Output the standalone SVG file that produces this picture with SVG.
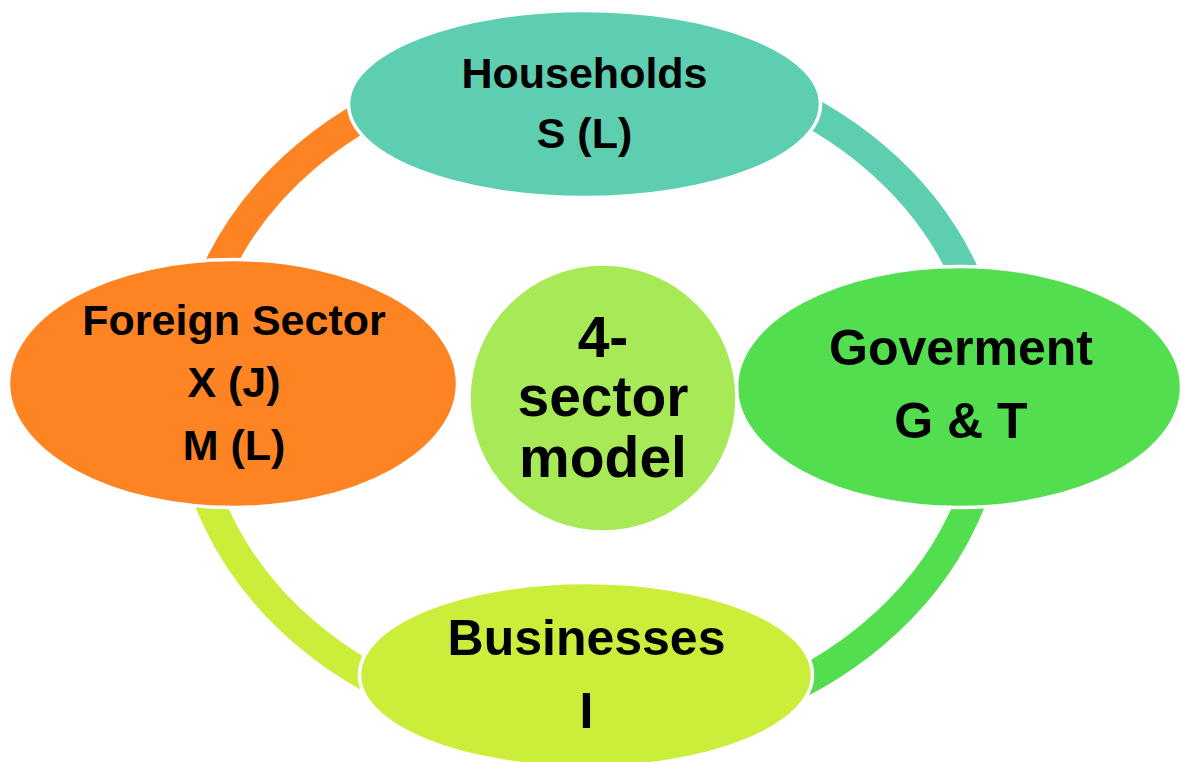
<svg xmlns="http://www.w3.org/2000/svg" width="1181" height="762" viewBox="0 0 1181 762">
<style>
.arc{fill:none;stroke-width:30;stroke-linecap:butt}
.node{stroke:#ffffff;stroke-width:3.5}
.t{font-family:"Liberation Sans",Arial,Helvetica,sans-serif;font-weight:bold;fill:#000000;text-anchor:middle}
</style>
<rect x="0" y="0" width="1181" height="762" fill="#ffffff"/>
<g id="connectors">
<path class="arc" stroke="#FE8423" d="M 189 395 A 401 338 0 0 1 590 57"/>
<path class="arc" stroke="#5ECEB0" d="M 590 57 A 401 338 0 0 1 991 395"/>
<path class="arc" stroke="#52DE4F" d="M 991 395 A 401 338 0 0 1 590 733"/>
<path class="arc" stroke="#CBEE3A" d="M 590 733 A 401 338 0 0 1 189 395"/>
</g>
<g id="households">
<ellipse class="node" cx="584.5" cy="104" rx="236" ry="93.5" fill="#5ECEB0"/>
<text class="t" x="584.5" y="88" font-size="43">Households</text>
<text class="t" x="584.5" y="148" font-size="43">S (L)</text>
</g>
<g id="government">
<ellipse class="node" cx="959" cy="387" rx="222.5" ry="120.5" fill="#52DE4F"/>
<text class="t" x="961" y="365" font-size="50">Goverment</text>
<text class="t" x="961" y="438" font-size="50">G &amp; T</text>
</g>
<g id="foreign">
<ellipse class="node" cx="233" cy="383.5" rx="224.5" ry="124" fill="#FE8423"/>
<text class="t" x="234" y="335" font-size="43">Foreign Sector</text>
<text class="t" x="234" y="397" font-size="43">X (J)</text>
<text class="t" x="234" y="460" font-size="43">M (L)</text>
</g>
<g id="businesses">
<ellipse class="node" cx="586" cy="675" rx="226.5" ry="92.5" fill="#CBEE3A"/>
<text class="t" x="586.5" y="655" font-size="50">Businesses</text>
<text class="t" x="586.5" y="728" font-size="50">I</text>
</g>
<g id="center">
<circle class="node" cx="603" cy="398" r="134" fill="#A8E957"/>
<text class="t" x="603" y="357" font-size="57">4-</text>
<text class="t" x="603" y="416" font-size="57">sector</text>
<text class="t" x="603" y="477" font-size="57">model</text>
</g>
</svg>
